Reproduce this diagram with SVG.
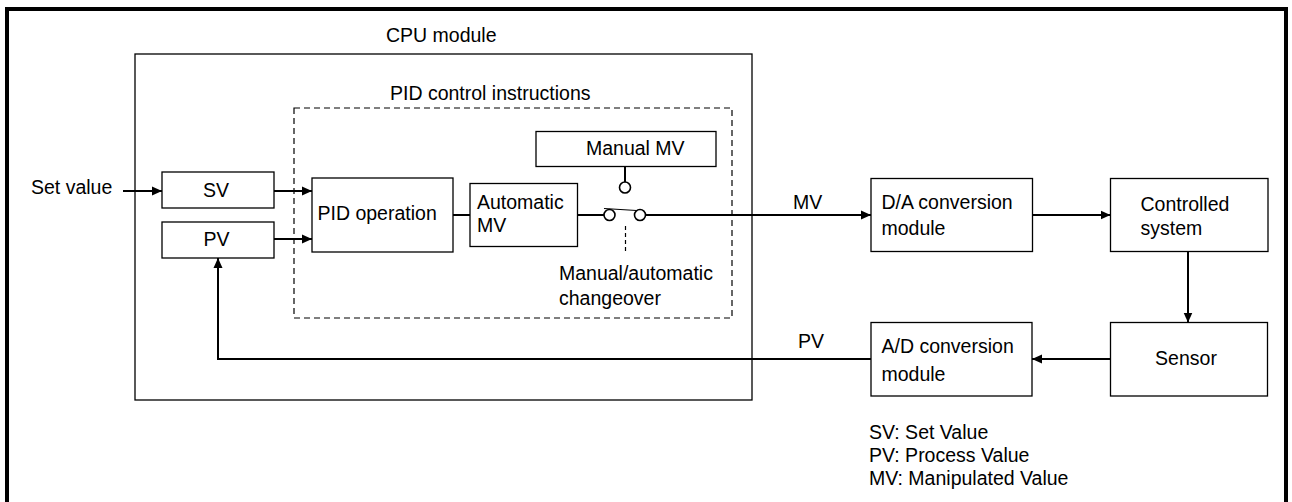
<svg xmlns="http://www.w3.org/2000/svg" width="1292" height="502" viewBox="0 0 1292 502">
<style>
  text { font-family: "Liberation Sans", Arial, sans-serif; font-size: 19.5px; fill: #000; }
  .box { fill: #fff; stroke: #000; stroke-width: 1.3; }
  .frame { fill: none; stroke: #000; stroke-width: 1.3; }
  .dash { fill: none; stroke: #000; stroke-width: 1.2; stroke-dasharray: 6 4; }
  .conn { fill: none; stroke: #000; stroke-width: 2; }
  .thin { fill: none; stroke: #000; stroke-width: 1.2; }
  .pin { fill: #fff; stroke: #000; stroke-width: 1.6; }
  .mid { text-anchor: middle; }
</style>
<defs>
  <marker id="arr" markerUnits="userSpaceOnUse" markerWidth="11" markerHeight="10" refX="10" refY="5" orient="auto">
    <path d="M0,0.5 L10,5 L0,9.5 Z" fill="#000"/>
  </marker>
</defs>
<rect x="0" y="0" width="1292" height="502" fill="#fff"/>
<rect id="outer-frame" x="7" y="9" width="1279" height="600" fill="none" stroke="#000" stroke-width="4"/>

<g id="cpu-module">
  <rect class="frame" x="135" y="54" width="617" height="346"/>
  <text x="386" y="41.5">CPU module</text>
</g>
<g id="pid-instructions">
  <rect class="dash" x="294" y="108" width="438" height="210"/>
  <text x="390" y="100">PID control instructions</text>
</g>

<g id="sv">
  <rect class="box" x="162" y="172" width="112" height="36"/>
  <text class="mid" x="216" y="197">SV</text>
</g>
<g id="pv">
  <rect class="box" x="162" y="222" width="112" height="36"/>
  <text class="mid" x="216.5" y="246">PV</text>
</g>
<g id="pid-operation">
  <rect class="box" x="312" y="178" width="141" height="74"/>
  <text x="317.5" y="220">PID operation</text>
</g>
<g id="automatic-mv">
  <rect class="box" x="470" y="183.5" width="107.5" height="63"/>
  <text x="477" y="208.5">Automatic</text>
  <text x="477" y="232">MV</text>
</g>
<g id="manual-mv">
  <rect class="box" x="536" y="131.5" width="180" height="35"/>
  <text x="586" y="154.5">Manual MV</text>
</g>
<g id="switch">
  <circle class="pin" cx="625" cy="187.5" r="5.5"/>
  <circle class="pin" cx="609.5" cy="215" r="5.5"/>
  <circle class="pin" cx="640" cy="215" r="5.5"/>
  <line class="thin" x1="604" y1="208.5" x2="636.5" y2="210.5"/>
  <line x1="625.5" y1="226" x2="625.5" y2="254" stroke="#000" stroke-width="1.2" stroke-dasharray="4 3"/>
  <text x="559" y="280">Manual/automatic</text>
  <text x="559" y="305">changeover</text>
</g>
<g id="da-module">
  <rect class="box" x="871" y="178.5" width="161.5" height="73"/>
  <text x="881.5" y="208.5">D/A conversion</text>
  <text x="881.5" y="235">module</text>
</g>
<g id="controlled-system">
  <rect class="box" x="1110.5" y="178.5" width="157.5" height="73"/>
  <text x="1140.5" y="210.5">Controlled</text>
  <text x="1140.5" y="234.5">system</text>
</g>
<g id="sensor">
  <rect class="box" x="1110.5" y="322.5" width="157" height="73.5"/>
  <text class="mid" x="1186" y="365">Sensor</text>
</g>
<g id="ad-module">
  <rect class="box" x="871" y="322.5" width="161" height="73.5"/>
  <text x="881.5" y="352.5">A/D conversion</text>
  <text x="881.5" y="381">module</text>
</g>

<g id="connectors">
  <line class="conn" x1="123" y1="191" x2="162" y2="191" marker-end="url(#arr)"/>
  <line class="conn" x1="274" y1="191" x2="312" y2="191" marker-end="url(#arr)"/>
  <line class="conn" x1="274" y1="239" x2="312" y2="239" marker-end="url(#arr)"/>
  <line class="conn" x1="453" y1="215" x2="470" y2="215"/>
  <line class="conn" x1="577.5" y1="215" x2="604" y2="215"/>
  <line class="conn" x1="625" y1="166.5" x2="625" y2="182"/>
  <line class="conn" x1="645.5" y1="215" x2="871" y2="215" marker-end="url(#arr)"/>
  <line class="conn" x1="1032.5" y1="215" x2="1110.5" y2="215" marker-end="url(#arr)"/>
  <line class="conn" x1="1188" y1="251.5" x2="1188" y2="322.5" marker-end="url(#arr)"/>
  <line class="conn" x1="1110.5" y1="359" x2="1032" y2="359" marker-end="url(#arr)"/>
  <path class="conn" d="M871,359 H218 V258" marker-end="url(#arr)"/>
  <text x="793" y="209">MV</text>
  <text x="798" y="348">PV</text>
</g>

<g id="legend">
  <text x="869" y="439">SV: Set Value</text>
  <text x="869" y="461.5">PV: Process Value</text>
  <text x="869" y="485">MV: Manipulated Value</text>
</g>
<text x="31" y="194">Set value</text>
</svg>
